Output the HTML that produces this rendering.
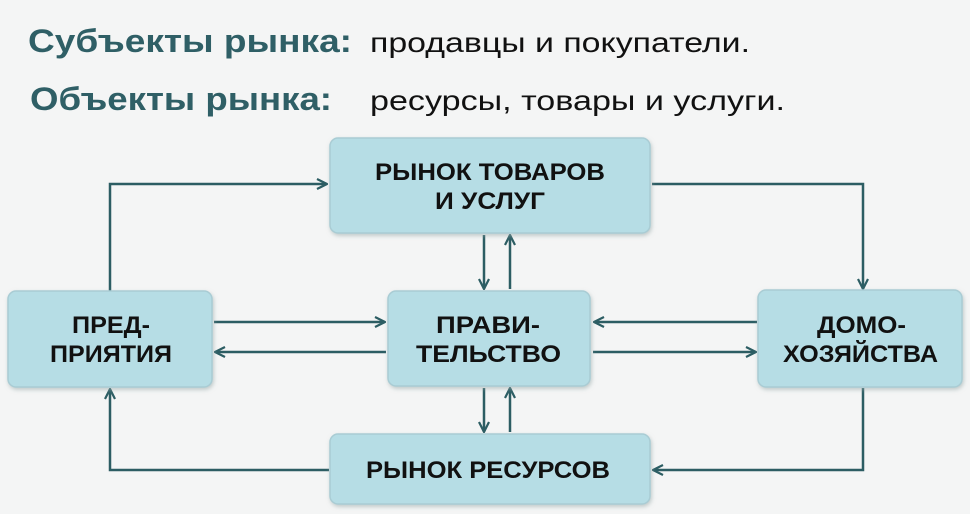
<!DOCTYPE html>
<html><head><meta charset="utf-8"><style>
html,body{margin:0;padding:0;background:#f4f5f5;}
svg{display:block}
</style></head><body>
<svg width="970" height="514" viewBox="0 0 970 514" xmlns="http://www.w3.org/2000/svg">
<defs>
<marker id="a" viewBox="0 0 12 12" refX="11" refY="6" markerWidth="12" markerHeight="12" markerUnits="userSpaceOnUse" orient="auto">
<path d="M1,1 L11,6 L1,11" fill="none" stroke="#2c5d63" stroke-width="2.2"/>
</marker>
<filter id="s" x="-10%" y="-10%" width="120%" height="130%"><feDropShadow dx="1" dy="2" stdDeviation="2" flood-color="#9aa" flood-opacity="0.6"/></filter>
</defs>
<rect width="970" height="514" fill="#f4f5f5"/>
<g font-family="'Liberation Sans', sans-serif" lengthAdjust="spacingAndGlyphs">
<text x="28" y="52" font-size="32" font-weight="bold" fill="#2f5f66" textLength="324" lengthAdjust="spacingAndGlyphs">Субъекты рынка:</text>
<text x="370" y="52" font-size="28" fill="#111" textLength="380" lengthAdjust="spacingAndGlyphs">продавцы и покупатели.</text>
<text x="30" y="110" font-size="32" font-weight="bold" fill="#2f5f66" textLength="302" lengthAdjust="spacingAndGlyphs">Объекты рынка:</text>
<text x="370" y="110" font-size="28" fill="#111" textLength="415" lengthAdjust="spacingAndGlyphs">ресурсы, товары и услуги.</text>
</g>
<g fill="none" stroke="#2c5d63" stroke-width="2.5">
<path d="M110,291 V184 H327" marker-end="url(#a)"/>
<path d="M652,184 H863 V289" marker-end="url(#a)"/>
<path d="M863,388 V470 H653" marker-end="url(#a)"/>
<path d="M329,470 H110 V389" marker-end="url(#a)"/>
<path d="M484,235 V289" marker-end="url(#a)"/>
<path d="M510,289 V235" marker-end="url(#a)"/>
<path d="M484,388 V432" marker-end="url(#a)"/>
<path d="M510,432 V388" marker-end="url(#a)"/>
<path d="M214,322 H385" marker-end="url(#a)"/>
<path d="M386,352 H215" marker-end="url(#a)"/>
<path d="M757,322 H594" marker-end="url(#a)"/>
<path d="M593,352 H756" marker-end="url(#a)"/>
</g>
<g fill="#b6dde5" stroke="#a9ccd4" stroke-width="1.5" filter="url(#s)">
<rect x="330" y="138" width="320" height="95" rx="8"/>
<rect x="8" y="291" width="204" height="96" rx="8"/>
<rect x="388" y="291" width="202" height="95" rx="8"/>
<rect x="758" y="290" width="204" height="97" rx="8"/>
<rect x="330" y="434" width="320" height="70" rx="8"/>
</g>
<g font-family="'Liberation Sans', sans-serif" font-size="24" font-weight="bold" fill="#111">
<text x="375" y="180" textLength="230" lengthAdjust="spacingAndGlyphs">РЫНОК ТОВАРОВ</text>
<text x="435" y="209" textLength="110" lengthAdjust="spacingAndGlyphs">И УСЛУГ</text>
<text x="72" y="333" textLength="78" lengthAdjust="spacingAndGlyphs">ПРЕД-</text>
<text x="50" y="362" textLength="122" lengthAdjust="spacingAndGlyphs">ПРИЯТИЯ</text>
<text x="436" y="333" textLength="104" lengthAdjust="spacingAndGlyphs">ПРАВИ-</text>
<text x="416" y="362" textLength="145" lengthAdjust="spacingAndGlyphs">ТЕЛЬСТВО</text>
<text x="817" y="333" textLength="89" lengthAdjust="spacingAndGlyphs">ДОМО-</text>
<text x="783" y="362" textLength="155" lengthAdjust="spacingAndGlyphs">ХОЗЯЙСТВА</text>
<text x="366" y="478" textLength="244" lengthAdjust="spacingAndGlyphs">РЫНОК РЕСУРСОВ</text>
</g>
</svg>
</body></html>
